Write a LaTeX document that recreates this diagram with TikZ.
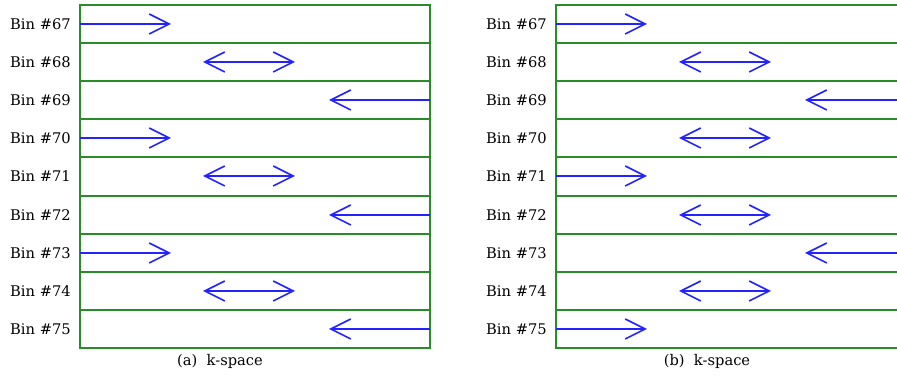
\documentclass[tikz,border=0pt]{standalone}
\usepackage{fontspec}
\setmainfont{DejaVu Serif}
\usetikzlibrary{arrows.meta}
\definecolor{boxgreen}{RGB}{40,140,40}
\definecolor{arrblue}{RGB}{35,35,255}
\def\symR{R}
\def\symD{D}
\def\symL{L}
\tikzset{
  gridline/.style={draw=boxgreen,line width=1.4pt},
  binlabel/.style={anchor=east,inner sep=0pt,font=\fontsize{11}{13}\selectfont},
  captext/.style={inner sep=0pt,font=\fontsize{11}{13}\selectfont},
  kbarb/.tip={Straight Barb[length=15pt,width=15pt,line width=1.2pt]},
  karrow/.style={draw=arrblue,line width=1.2pt,-kbarb},
  kdarrow/.style={draw=arrblue,line width=1.2pt,kbarb-kbarb}
}
\begin{document}
\begin{tikzpicture}[x=0.75pt,y=-0.75pt]
\useasboundingbox (0,0) rectangle (897,377);
\clip (0,0) rectangle (897,377);
% panels: name / left x / right x / arrow pattern
\foreach \p/\xa/\xb/\pat/\cap/\cx in {a/80/430/{R,D,L,R,D,L,R,D,L}/(a)/220, b/556/906/{R,D,L,D,R,D,L,D,R}/(b)/707}{
  \draw[gridline] (\xa,5) rectangle (\xb,348);
  \foreach \k in {1,...,8}{
    \pgfmathtruncatemacro{\ly}{round(5+38.11*\k)}
    \coordinate (\p l\k) at (\xa,\ly);
    \coordinate (\p r\k) at (\xb,\ly);
    \draw[gridline] (\p l\k) -- (\p r\k);
  }
  \foreach \t [count=\i from 0] in \pat {
    \pgfmathtruncatemacro{\yy}{round(5+38.11*(\i+0.5))}
    \pgfmathtruncatemacro{\num}{67+\i}
    \node[binlabel] (\p lab\i) at ({\xa-9},\yy) {Bin \#\num};
    \coordinate (\p R1\i) at (\xa,\yy);
    \coordinate (\p R2\i) at ({\xa+91},\yy);
    \coordinate (\p D1\i) at ({\xa+123},\yy);
    \coordinate (\p D2\i) at ({\xa+215},\yy);
    \coordinate (\p L1\i) at (\xb,\yy);
    \coordinate (\p L2\i) at ({\xb-101},\yy);
    \ifx\t\symR \draw[karrow] (\p R1\i) -- (\p R2\i);\fi
    \ifx\t\symD \draw[kdarrow] (\p D1\i) -- (\p D2\i);\fi
    \ifx\t\symL \draw[karrow] (\p L1\i) -- (\p L2\i);\fi
  }
  \node[captext] (\p cap) at (\cx,361) {\cap~~k-space};
}
\end{tikzpicture}
\end{document}
